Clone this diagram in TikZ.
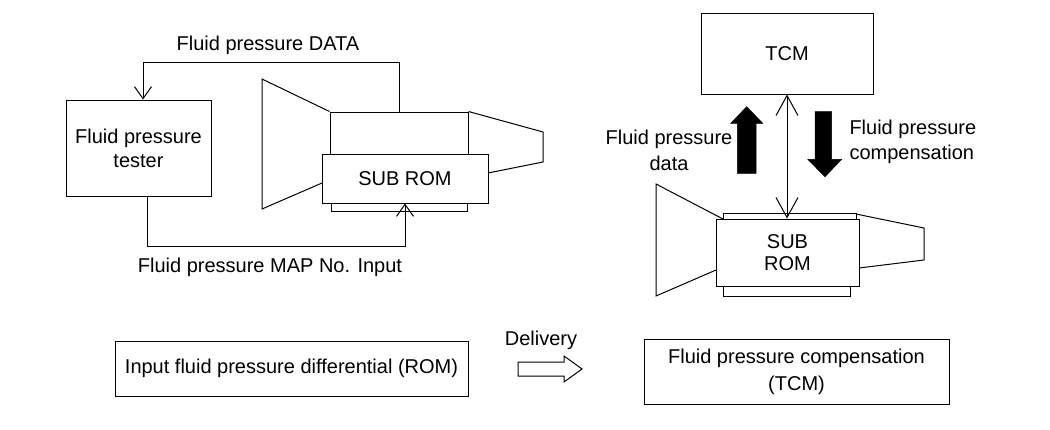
\documentclass[tikz,border=0pt]{standalone}
\usepackage{fontspec}
\setmainfont{Liberation Sans}
\usetikzlibrary{arrows.meta}
\begin{document}
\begin{tikzpicture}[x=1pt,y=-1pt,line width=1pt,line join=miter,
  txt/.style={font=\fontsize{20}{24}\selectfont,align=center,inner sep=0pt},
  box/.style={draw,txt},
  part/.style={draw,inner sep=0pt},
  oarrow/.style={-{Straight Barb[length=12pt,width=17pt,line width=1pt]}},
  bigoarrow/.style={{Straight Barb[length=20pt,width=22pt,line width=1pt]}-{Straight Barb[length=20pt,width=22pt,line width=1pt]}},
  blackarrow/.style={fill=black,draw=black,line width=0.5pt},
  hollowarrow/.style={draw,fill=white,line width=1pt}]
\useasboundingbox (0,0) rectangle (1050,429);

% ---------- left: tester and SUB ROM ----------
\node[box,minimum width=145pt,minimum height=96pt] (tester) at (138.5,148) {Fluid pressure\\tester};
\node[part,minimum width=138pt,minimum height=42pt] (strip1) at (399,133) {};
\node[part,minimum width=136pt,minimum height=8pt] (strip1b) at (399,207) {};
\node[box,fill=white,minimum width=166pt,minimum height=49pt] (subrom1) at (405,178.5) {SUB ROM};
\draw (strip1.north west) -- (262,79) -- (262,209) -- (322,183);
\draw (strip1.north east) -- (543,132) -- (543,162) -- (488,173);

\draw[oarrow] (strip1.north) -- ++(0,-49) -| ([xshift=4.5pt]tester.north);
\node[txt] (datalbl) at (268,45) {Fluid pressure DATA};
\draw[oarrow] ([xshift=8.5pt]tester.south) -- ++(0,50) -| (subrom1.south);
\node[txt] (maplbl) at (270,267) {Fluid pressure MAP No. Input};

% ---------- right: TCM and SUB ROM ----------
\node[box,minimum width=172pt,minimum height=81pt] (tcm) at (787,53.5) {TCM};
\node[part,minimum width=133pt,minimum height=6pt] (strip2) at (789.5,216) {};
\node[part,minimum width=127pt,minimum height=10pt] (strip2b) at (786.5,291) {};
\node[box,fill=white,font=\fontsize{20}{22}\selectfont,minimum width=143pt,minimum height=67pt] (subrom2) at (787.5,252.5) {SUB\\ROM};
\draw (723,219) -- (656,184) -- (656,296) -- (716,270);
\draw (856,214) -- (924,228) -- (924,260) -- (859,268);

\draw[bigoarrow] (tcm.south) -- (tcm.south |- subrom2.north);

\fill[blackarrow] (746.7,106.7) -- (762.7,123.3) -- (756,123.3) -- (756,173.3) -- (737.3,173.3) -- (737.3,123.3) -- (730.7,123.3) -- cycle;
\fill[blackarrow] (815,111.7) -- (831.7,111.7) -- (831.7,159.3) -- (841.7,159.3) -- (825,176.7) -- (807.7,159.3) -- (815,159.3) -- cycle;

\node[txt,font=\fontsize{20}{26}\selectfont] (fpdata) at (669,150) {Fluid pressure\\data};
\node[txt,align=left,anchor=west,font=\fontsize{20}{25}\selectfont] (fpcomp) at (849,142) {Fluid pressure\\compensation};

% ---------- bottom row ----------
\node[box,minimum width=353pt,minimum height=55pt] (inrom) at (291.5,368.5) {Input fluid pressure differential (ROM)};
\node[txt] (deliv) at (541,340) {Delivery};
\draw[hollowarrow] (518,362) -- (564,362) -- (564,356) -- (582,369) -- (564,382) -- (564,376) -- (518,376) -- cycle;
\node[box,font=\fontsize{20}{27}\selectfont,minimum width=305pt,minimum height=65pt] (comptcm) at (796.5,371.5) {Fluid pressure compensation\\(TCM)};
\end{tikzpicture}
\end{document}
